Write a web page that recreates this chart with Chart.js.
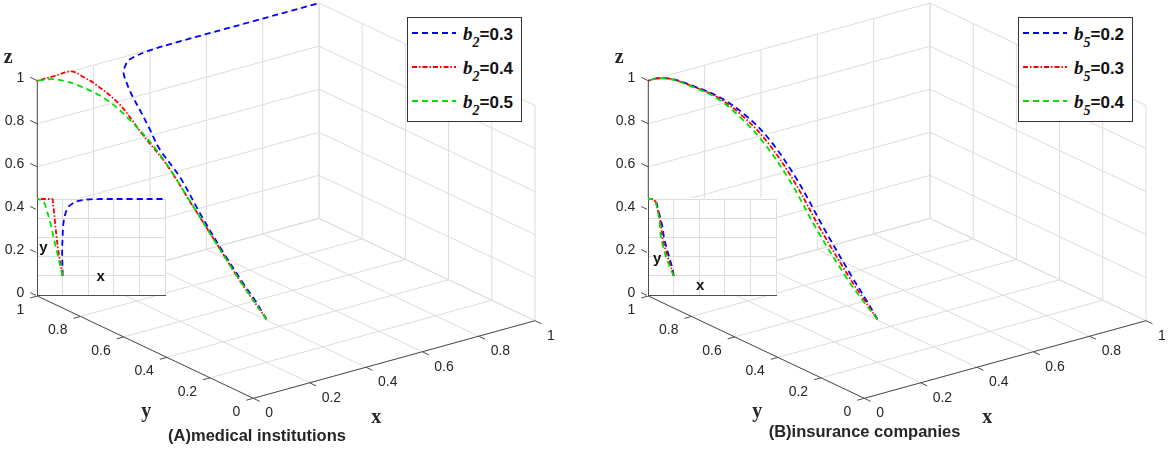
<!DOCTYPE html>
<html lang="en">
<head>
  <meta charset="UTF-8" />
  <title>Evolution paths (A) / (B)</title>
  <script src="https://cdn.jsdelivr.net/npm/chart.js@4.4.0/dist/chart.umd.min.js"></script>
  <style>
    html, body { margin: 0; padding: 0; background: #fff; }
    #wrap { position: relative; width: 1169px; height: 449px; overflow: hidden; }
    .panel { position: absolute; top: 0; width: 558px; height: 449px; }
    .panel canvas.main { position: absolute; left: 0; top: 0; }
    .panel canvas.inset { position: absolute; left: 36px; top: 198px; background: #fff; }
    .legend { position: absolute; left: 407px; top: 17px; width: 113px; height: 103px;
              border: 1px solid #333; background: #fff; }
    .legend .row { position: absolute; left: 0; height: 20px; width: 113px; line-height: 20px; white-space: nowrap; }
    .legend svg { position: absolute; left: 4px; top: 6px; }
    .legend .lbl { position: absolute; left: 55px; top: 0; color: #111; }
    .legend .b { font: italic bold 19px "Liberation Serif", "DejaVu Serif", serif; }
    .legend .s { font: italic bold 14px "Liberation Serif", "DejaVu Serif", serif; position: relative; top: 7px; }
    .legend .v { font: bold 17px "Liberation Sans", Arial, sans-serif; }
  </style>
</head>
<body>
<div id="wrap">
  <div class="panel" id="panelA" style="left:0px">
    <canvas class="main" width="558" height="449"></canvas>
    <canvas class="inset" width="130" height="98"></canvas>
    <div class="legend"></div>
  </div>
  <div class="panel" id="panelB" style="left:611px">
    <canvas class="main" width="558" height="449"></canvas>
    <canvas class="inset" width="130" height="98"></canvas>
    <div class="legend"></div>
  </div>
</div>

<script>
  // ---- axis ticks (same on x, y, z and in the inset) ----
  const axisTicks = [0, 0.2, 0.4, 0.6, 0.8, 1];
  const tickLabels = ['0', '0.2', '0.4', '0.6', '0.8', '1'];

  // ---- (A) medical institutions : [x, y, z] along each path ----
  const medB2_03 = [[0.2,0.2,0.2],[0.2,0.25,0.26],[0.199,0.3,0.31],[0.197,0.4,0.423],[0.197,0.5,0.544],
                    [0.2,0.6,0.669],[0.203,0.7,0.754],[0.207,0.75,0.82],[0.213,0.8,0.877],[0.222,0.85,0.921],
                    [0.23,0.88,0.948],[0.245,0.92,0.985],[0.275,0.95,0.997],[0.31,0.975,1],[0.39,0.995,1],
                    [0.5,1,1],[0.75,1,1],[1,1,1]];
  const medB2_04 = [[0.2,0.2,0.2],[0.187,0.3,0.327],[0.174,0.4,0.471],[0.162,0.5,0.611],[0.153,0.6,0.744],
                    [0.145,0.7,0.838],[0.138,0.8,0.936],[0.13,0.9,0.984],[0.125,0.95,0.996],[0.12,1,1],
                    [0.06,1,1],[0,1,1]];
  const medB2_05 = [[0.2,0.2,0.2],[0.182,0.3,0.34],[0.165,0.4,0.49],[0.147,0.5,0.65],[0.13,0.6,0.798],
                    [0.113,0.7,0.9],[0.094,0.8,0.972],[0.072,0.9,0.998],[0.06,0.95,1],[0.04,0.985,1],[0,1,1]];
  const medLegend = ['0.3', '0.4', '0.5'];

  // ---- (B) insurance companies ----
  const insB5_02 = [[0.2,0.2,0.2],[0.195,0.25,0.275],[0.186,0.3,0.355],[0.165,0.4,0.536],[0.143,0.5,0.73],
                    [0.125,0.6,0.869],[0.114,0.7,0.942],[0.097,0.8,0.985],[0.077,0.9,0.998],[0.062,0.97,1],
                    [0.03,1,1],[0,1,1]];
  const insB5_03 = [[0.2,0.2,0.2],[0.189,0.25,0.275],[0.177,0.3,0.355],[0.153,0.4,0.536],[0.131,0.5,0.73],
                    [0.113,0.6,0.869],[0.104,0.7,0.942],[0.092,0.8,0.985],[0.074,0.9,0.998],[0.06,0.97,1],
                    [0.029,1,1],[0,1,1]];
  const insB5_04 = [[0.2,0.2,0.2],[0.183,0.25,0.275],[0.168,0.3,0.355],[0.141,0.4,0.536],[0.119,0.5,0.73],
                    [0.101,0.6,0.869],[0.094,0.7,0.942],[0.087,0.8,0.985],[0.071,0.9,0.998],[0.058,0.97,1],
                    [0.028,1,1],[0,1,1]];
  const insLegend = ['0.2', '0.3', '0.4'];

  // line styles: blue dashed, red dash-dot, green dashed
  const styles = [
    { color: '#0000ff', dash: [6, 4], order: 3 },
    { color: '#ff0000', dash: [5, 2, 1.5, 2], order: 2 },
    { color: '#00e000', dash: [6, 4], order: 1 }
  ];

  // fixed 3D view -> 2D plane (u to the right, v upward)
  function project(p) {
    return { x: 281.7 * p[0] - 216 * p[1], y: 77.6 * p[0] + 102.3 * p[1] + 215.3 * p[2] };
  }

  function boxLines() {
    const grid = [], axes = [];
    const gap = { x: null, y: null };
    const add = (arr, a, b) => arr.push(project(a), project(b), gap);
    axisTicks.forEach(t => {
      add(grid, [t, 1, 0], [t, 1, 1]);   // back wall (y=1)
      add(grid, [0, 1, t], [1, 1, t]);
      add(grid, [1, t, 0], [1, t, 1]);   // side wall (x=1)
      add(grid, [1, 0, t], [1, 1, t]);
      add(grid, [t, 0, 0], [t, 1, 0]);   // floor (z=0)
      add(grid, [0, t, 0], [1, t, 0]);
      // tick marks
      add(axes, [0, 1, t], [0, 1.033, t]);
      add(axes, [0, t, 0], [-0.025, t, 0]);
      add(axes, [t, 0, 0], [t, -0.03, 0]);
    });
    add(axes, [0, 1, 0], [0, 1, 1]);
    add(axes, [0, 0, 0], [0, 1, 0]);
    add(axes, [0, 0, 0], [1, 0, 0]);
    return { grid, axes };
  }

  // tick labels, axis names and panel title
  const axisText = {
    id: 'axisText',
    afterDatasetsDraw(chart, args, opts) {
      const { ctx } = chart;
      const sx = chart.scales.x, sy = chart.scales.y;
      const at = p => { const q = project(p); return [sx.getPixelForValue(q.x), sy.getPixelForValue(q.y)]; };
      ctx.save();
      ctx.fillStyle = '#262626';
      ctx.font = '14px "Liberation Sans", Arial, sans-serif';
      ctx.textBaseline = 'middle';
      ctx.textAlign = 'right';
      axisTicks.forEach((t, i) => {
        let [px, py] = at([0, 1, t]);
        ctx.fillText(tickLabels[i], px - 13, py - 2.5);
        [px, py] = at([0, t, 0]);
        ctx.fillText(tickLabels[i], px - 13, py + 14);
      });
      ctx.textAlign = 'left';
      axisTicks.forEach((t, i) => {
        const [px, py] = at([t, 0, 0]);
        ctx.fillText(tickLabels[i], px + 12, py + 15);
      });
      ctx.textBaseline = 'alphabetic';
      ctx.textAlign = 'center';
      ctx.font = 'bold 20px "Liberation Serif", "DejaVu Serif", serif';
      let [px, py] = at([0, 1, 1]);
      ctx.fillText('z', px - 29, py - 17.7);
      [px, py] = at([0, 0, 0]);
      ctx.fillText('y', px - 107, py + 19);
      ctx.fillText('x', px + 123, py + 24.4);
      ctx.font = 'bold 16.5px "Liberation Sans", Arial, sans-serif';
      ctx.fillText(opts.title, opts.titleX, opts.titleY);
      ctx.restore();
    }
  };

  const insetText = {
    id: 'insetText',
    afterDatasetsDraw(chart, args, opts) {
      const { ctx } = chart;
      const sx = chart.scales.x, sy = chart.scales.y;
      ctx.save();
      ctx.fillStyle = '#111';
      ctx.font = 'bold 15px "Liberation Sans", Arial, sans-serif';
      ctx.textAlign = 'center';
      ctx.textBaseline = 'middle';
      ctx.fillText('y', sx.getPixelForValue(opts.yAt[0]), sy.getPixelForValue(opts.yAt[1]));
      ctx.fillText('x', sx.getPixelForValue(opts.xAt[0]), sy.getPixelForValue(opts.xAt[1]));
      ctx.restore();
    }
  };

  function drawPanel(id, series, legendVals, sub, title, titleX, titleY, yAt, xAt) {
    const panel = document.getElementById(id);
    const lines = boxLines();

    const datasets = [
      { data: lines.grid, borderColor: '#dcdcdc', borderWidth: 1, order: 30 },
      { data: lines.axes, borderColor: '#4d4d4d', borderWidth: 1, order: 20 }
    ];
    series.forEach((s, i) => {
      datasets.push({
        data: s.map(project), borderColor: styles[i].color, borderDash: styles[i].dash,
        borderWidth: 1.8, tension: 0.35, order: styles[i].order
      });
    });
    datasets.forEach(d => { d.showLine = true; d.pointRadius = 0; d.spanGaps = false; d.clip = false; });

    new Chart(panel.querySelector('canvas.main'), {
      type: 'scatter',
      data: { datasets },
      options: {
        responsive: false, animation: false, events: [],
        layout: { padding: 0 },
        plugins: { legend: { display: false }, tooltip: { enabled: false },
                   axisText: { title, titleX, titleY } },
        scales: {
          x: { type: 'linear', display: false, min: -253.3, max: 304.7 },
          y: { type: 'linear', display: false, min: -50.7, max: 398.3 }
        }
      },
      plugins: [axisText]
    });

    // inset: x-y plane of the same paths
    const insetSets = series.map((s, i) => ({
      data: s.map(p => ({ x: p[0], y: p[1] })), showLine: true, pointRadius: 0,
      borderColor: styles[i].color, borderDash: styles[i].dash, borderWidth: 1.8,
      tension: 0.35, order: styles[i].order, clip: false
    }));
    const insetAxis = {
      type: 'linear', min: 0, max: 1,
      ticks: { display: false, stepSize: 0.2 },
      grid: { color: '#dcdcdc', drawTicks: false },
      border: { color: '#4d4d4d', width: 1 }
    };
    new Chart(panel.querySelector('canvas.inset'), {
      type: 'scatter',
      data: { datasets: insetSets },
      options: {
        responsive: false, animation: false, events: [],
        layout: { padding: 1 },
        plugins: { legend: { display: false }, tooltip: { enabled: false }, insetText: { yAt, xAt } },
        scales: { x: insetAxis, y: insetAxis }
      },
      plugins: [insetText]
    });

    // legend
    const box = panel.querySelector('.legend');
    const centers = [15, 49, 82.5];
    legendVals.forEach((v, i) => {
      const row = document.createElement('div');
      row.className = 'row';
      row.style.top = (centers[i] - 10) + 'px';
      row.innerHTML =
        '<svg width="44" height="8"><line x1="0" y1="4" x2="44" y2="4" stroke="' + styles[i].color +
        '" stroke-width="1.8" stroke-dasharray="' + styles[i].dash.join(' ') + '"/></svg>' +
        '<span class="lbl"><span class="b">b</span><span class="s">' + sub + '</span><span class="v">=' + v + '</span></span>';
      box.appendChild(row);
    });
  }

  drawPanel('panelA', [medB2_03, medB2_04, medB2_05], medLegend, '2',
            '(A)medical institutions', 257, 441, [0.05, 0.486], [0.498, 0.184]);
  drawPanel('panelB', [insB5_02, insB5_03, insB5_04], insLegend, '5',
            '(B)insurance companies', 253.5, 437, [0.072, 0.378], [0.408, 0.098]);
</script>
</body>
</html>
